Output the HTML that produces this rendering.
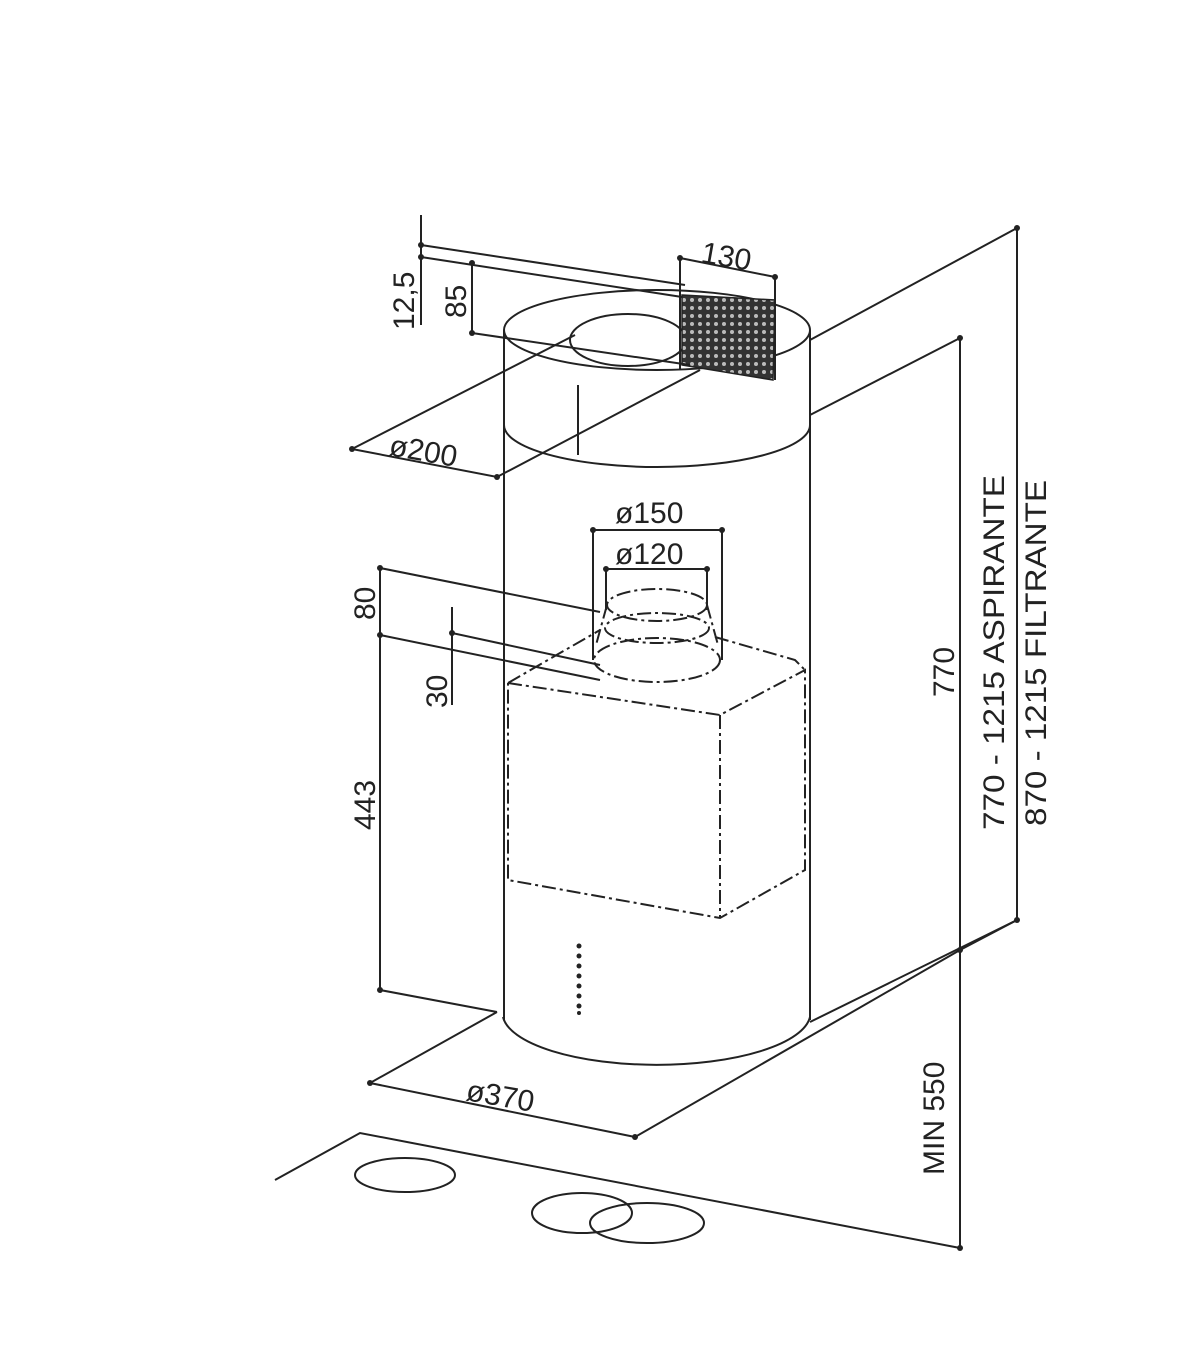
<!DOCTYPE html>
<html><head><meta charset="utf-8"><style>
html,body{margin:0;padding:0;background:#fff}
svg{display:block}
text{font-family:"Liberation Sans",sans-serif;fill:#222}
</style></head><body>
<svg width="1200" height="1372" viewBox="0 0 1200 1372" xmlns="http://www.w3.org/2000/svg">
<defs>
<pattern id="g" width="8" height="8" patternUnits="userSpaceOnUse">
<rect width="8" height="8" fill="#333"/>
<circle cx="4" cy="4" r="2" fill="#bbb"/>
</pattern>
</defs>
<g stroke="#222" stroke-width="2" fill="none">
<ellipse cx="657" cy="330" rx="153" ry="40"/>
<ellipse cx="628" cy="340" rx="58" ry="26"/>
<path d="M504 425 A153 42 0 0 0 810 425"/>
<line x1="504" y1="330" x2="504" y2="1020"/>
<line x1="810" y1="330" x2="810" y2="1020"/>
<line x1="578" y1="385" x2="578" y2="455"/>
<path d="M503 1017 A154 52 0 0 0 810 1017"/>
<path d="M682 295 L775 300 L773 380 L682 365 Z" fill="url(#g)" stroke="#222" stroke-width="1.5"/>
<line x1="421" y1="215" x2="421" y2="325"/>
<line x1="421" y1="245" x2="685" y2="285"/>
<line x1="421" y1="257" x2="682" y2="297"/>
<polyline points="472,263 472,333 690,365"/>
<polyline points="680,370 680,258 775,277 775,380"/>
<line x1="352" y1="449" x2="575" y2="335"/>
<polyline points="352,449 497,477 700,370"/>
<line x1="810" y1="340" x2="1017" y2="228"/>
<line x1="1017" y1="228" x2="1017" y2="920"/>
<line x1="1017" y1="920" x2="960" y2="950"/>
<line x1="810" y1="415" x2="960" y2="338"/>
<line x1="960" y1="338" x2="960" y2="1248"/>
<line x1="960" y1="950" x2="635" y2="1137"/>
<line x1="810" y1="1022" x2="1017" y2="920"/>
<polyline points="497,1012 370,1083 635,1137"/>
<polyline points="497,1012 380,990 380,568 600,612"/>
<line x1="380" y1="635" x2="600" y2="680"/>
<line x1="452" y1="607" x2="452" y2="705"/>
<line x1="452" y1="633" x2="600" y2="665"/>
<polyline points="593,660 593,530 722,530 722,660"/>
<polyline points="606,610 606,569 707,569 707,610"/>
<polyline points="275,1180 360,1133 960,1248"/>
<ellipse cx="405" cy="1175" rx="50" ry="17"/>
<ellipse cx="582" cy="1213" rx="50" ry="20"/>
<ellipse cx="647" cy="1223" rx="57" ry="20"/>
</g>
<g stroke="#222" stroke-width="2" fill="none" stroke-dasharray="14 4 3 4">
<ellipse cx="657" cy="605" rx="50" ry="16"/>
<ellipse cx="657" cy="628" rx="52" ry="15"/>
<ellipse cx="657" cy="660" rx="63" ry="22"/>
<line x1="607" y1="605" x2="596" y2="645"/>
<line x1="707" y1="605" x2="718" y2="645"/>
<polyline points="508,683 600,630"/>
<polyline points="715,637 795,660 805,670"/>
<polyline points="508,683 720,715 805,670 805,870 720,918 508,880 508,683"/>
<line x1="720" y1="715" x2="720" y2="918"/>
</g>
<g fill="#222">
<circle cx="421" cy="245" r="3"/><circle cx="421" cy="257" r="3"/>
<circle cx="472" cy="263" r="3"/><circle cx="472" cy="333" r="3"/>
<circle cx="680" cy="258" r="3"/><circle cx="775" cy="277" r="3"/>
<circle cx="352" cy="449" r="3"/><circle cx="497" cy="477" r="3"/>
<circle cx="1017" cy="228" r="3"/><circle cx="1017" cy="920" r="3"/>
<circle cx="960" cy="338" r="3"/><circle cx="960" cy="950" r="3"/><circle cx="960" cy="1248" r="3"/>
<circle cx="370" cy="1083" r="3"/><circle cx="635" cy="1137" r="3"/>
<circle cx="380" cy="990" r="3"/><circle cx="380" cy="635" r="3"/><circle cx="380" cy="568" r="3"/>
<circle cx="452" cy="633" r="3"/>
<circle cx="593" cy="530" r="3"/><circle cx="722" cy="530" r="3"/>
<circle cx="606" cy="569" r="3"/><circle cx="707" cy="569" r="3"/>
<circle cx="579" cy="946" r="2.5"/><circle cx="579" cy="956" r="2.5"/><circle cx="579" cy="966" r="2.5"/>
<circle cx="579" cy="976" r="2.5"/><circle cx="579" cy="986" r="2.5"/><circle cx="579" cy="996" r="2.5"/>
<circle cx="579" cy="1006" r="2.5"/><circle cx="579" cy="1013" r="2"/>
</g>
<g font-size="30">
<text transform="translate(414,330) rotate(-90)">12,5</text>
<text transform="translate(466,318) rotate(-90)">85</text>
<text transform="translate(700,262) rotate(10)">130</text>
<text transform="translate(388,455) rotate(10)">ø200</text>
<text x="615" y="523">ø150</text>
<text x="615" y="564">ø120</text>
<text transform="translate(375,620) rotate(-90)">80</text>
<text transform="translate(447,708) rotate(-90)">30</text>
<text transform="translate(375,830) rotate(-90)">443</text>
<text transform="translate(465,1100) rotate(10)">ø370</text>
<text transform="translate(954,697) rotate(-90)">770</text>
<text transform="translate(1004,830) rotate(-90)" textLength="355" lengthAdjust="spacingAndGlyphs">770 - 1215 ASPIRANTE</text>
<text transform="translate(1046,826) rotate(-90)" textLength="346" lengthAdjust="spacingAndGlyphs">870 - 1215 FILTRANTE</text>
<text transform="translate(944,1175) rotate(-90)">MIN 550</text>
</g>
</svg>
</body></html>
